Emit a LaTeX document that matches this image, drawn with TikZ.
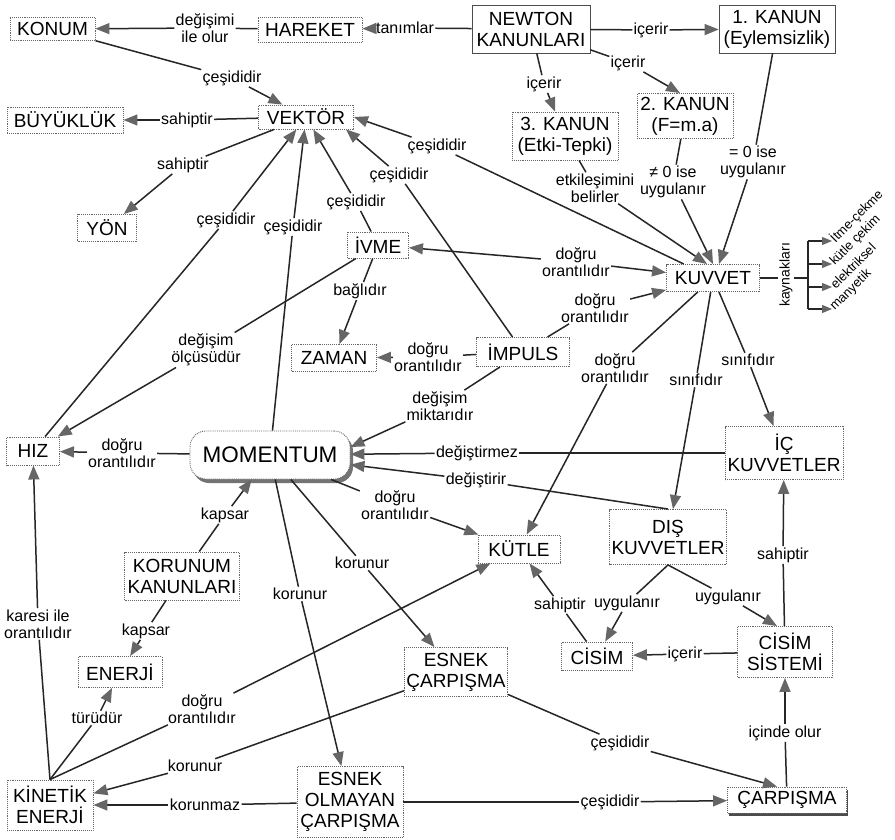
\documentclass[tikz,border=0pt]{standalone}
\usepackage{fontspec}
\setmainfont{Liberation Sans}
\usetikzlibrary{arrows.meta,shadows}

% one labelled link of the concept map: source -- phrase -> target
\newcommand\cmaplink[3]{\draw[link] (#1) -- (#2); \draw[arr] (#2) -- (#3);}

\begin{document}
\begin{tikzpicture}[x=1pt,y=-1pt,
  concept/.style={draw=black!60, densely dotted, line width=0.9pt, fill=white,
    inner sep=2pt, font=\fontsize{19}{21}\selectfont, align=center},
  firm/.style={concept, solid, draw=black!70, line width=0.7pt},
  lbl/.style={font=\fontsize{16}{17}\selectfont, align=center, inner sep=1.2pt},
  link/.style={draw=black!85, line width=1.5pt},
  arr/.style={link, -{Triangle[length=14pt,width=11pt,color=black!60]}},
  src/.style={font=\fontsize{13}{14}\selectfont, rotate=45, anchor=west, inner sep=0.5pt},
]
\fill[white] (0,0) rectangle (895,840);
\useasboundingbox (0,0) rectangle (895,840);

% ---------- concepts ----------
\node[firm, minimum width=118pt, minimum height=48pt] (newton) at (531,29) {NEWTON\\KANUNLARI};
\node[firm, minimum width=116pt, minimum height=48pt] (k1) at (777,29) {1. KANUN\\(Eylemsizlik)};
\node[concept, minimum width=96pt, minimum height=45pt] (k2) at (685,116) {2. KANUN\\(F=m.a)};
\node[concept, minimum width=106pt, minimum height=48pt] (k3) at (565,136) {3. KANUN\\(Etki-Tepki)};
\node[concept, minimum width=85pt, minimum height=23pt] (konum) at (52.5,29) {KONUM};
\node[concept, minimum width=104pt, minimum height=25pt] (hareket) at (310,29.5) {HAREKET};
\node[concept, minimum width=95pt, minimum height=24pt] (vektor) at (306,117) {VEKTÖR};
\node[concept, minimum width=116pt, minimum height=26pt] (buyukluk) at (65,120) {BÜYÜKLÜK};
\node[concept, minimum width=59pt, minimum height=27pt] (yon) at (107,228) {YÖN};
\node[concept, minimum width=61pt, minimum height=26pt] (ivme) at (378,245) {İVME};
\node[concept, minimum width=93pt, minimum height=27pt] (kuvvet) at (713,278) {KUVVET};
\node[concept, minimum width=85pt, minimum height=27pt] (zaman) at (334,358) {ZAMAN};
\node[concept, minimum width=93pt, minimum height=29pt] (impuls) at (523,352) {İMPULS};
\node[concept, minimum width=53pt, minimum height=28pt] (hiz) at (33,451) {HIZ};
\node[concept, rounded corners=16pt, minimum width=160pt, minimum height=48pt,
  font=\fontsize{22.5}{24}\selectfont,
  drop shadow={shadow xshift=3pt, shadow yshift=-4pt, fill=black!55, opacity=1}]
  (mom) at (270,455) {MOMENTUM};
\node[concept, minimum width=118pt, minimum height=53pt] (ic) at (784,453) {İÇ\\KUVVETLER};
\node[concept, minimum width=82pt, minimum height=28pt] (kutle) at (519,549) {KÜTLE};
\node[concept, minimum width=117pt, minimum height=55pt] (dis) at (668,537) {DIŞ\\KUVVETLER};
\node[concept, minimum width=115pt, minimum height=48pt] (korunum) at (182,576) {KORUNUM\\KANUNLARI};
\node[concept, minimum width=84pt, minimum height=31pt] (enerji) at (120,672) {ENERJİ};
\node[concept, minimum width=103pt, minimum height=49pt] (esnek) at (456,672) {ESNEK\\ÇARPIŞMA};
\node[concept, minimum width=71pt, minimum height=28pt] (cisim) at (597,656) {CİSİM};
\node[concept, minimum width=95pt, minimum height=51pt] (sistem) at (785,652) {CİSİM\\SİSTEMİ};
\node[concept, minimum width=86pt, minimum height=50pt] (kinetik) at (50,805) {KİNETİK\\ENERJİ};
\node[concept, minimum width=106pt, minimum height=71pt] (olmayan) at (350,802) {ESNEK\\OLMAYAN\\ÇARPIŞMA};
\node[concept, minimum width=119pt, minimum height=26pt,
  drop shadow={shadow xshift=1pt, shadow yshift=-3pt, fill=black!70, opacity=1}]
  (carpisma) at (787,800) {ÇARPIŞMA};

% ---------- linking phrases ----------
\node[lbl] (l1) at (205,28) {değişimi\\ile olur};
\node[lbl] (l2) at (405,28) {tanımlar};
\node[lbl] (l3) at (651,30) {içerir};
\node[lbl] (l4) at (628,63) {içerir};
\node[lbl] (l5) at (544,84) {içerir};
\node[lbl] (l6) at (232,78) {çeşididir};
\node[lbl] (l7) at (187,120) {sahiptir};
\node[lbl] (l8) at (183,165) {sahiptir};
\node[lbl] (l9) at (226,220) {çeşididir};
\node[lbl] (l10) at (293,227) {çeşididir};
\node[lbl] (l11) at (356,202) {çeşididir};
\node[lbl] (l12) at (399,175) {çeşididir};
\node[lbl] (l13) at (437,146) {çeşididir};
\node[lbl] (l14) at (595,188) {etkileşimini\\belirler};
\node[lbl] (l15) at (673,182) {≠ 0 ise\\uygulanır};
\node[lbl] (l16) at (753,162) {= 0 ise\\uygulanır};
\node[lbl] (l17) at (576,262) {doğru\\orantılıdır};
\node[lbl] (l18) at (595,308) {doğru\\orantılıdır};
\node[lbl] (l19) at (428,357) {doğru\\orantılıdır};
\node[lbl] (l20) at (360,291) {bağlıdır};
\node[lbl] (l21) at (206,350) {değişim\\ölçüsüdür};
\node[lbl] (l22) at (122,453) {doğru\\orantılıdır};
\node[lbl] (l23) at (440,406) {değişim\\miktarıdır};
\node[lbl] (l24) at (477,453) {değiştirmez};
\node[lbl] (l25) at (476,480) {değiştirir};
\node[lbl] (l26) at (395,505) {doğru\\orantılıdır};
\node[lbl] (l27) at (615,368) {doğru\\orantılıdır};
\node[lbl] (l28) at (696,380) {sınıfıdır};
\node[lbl] (l29) at (748,360) {sınıfıdır};
\node[lbl] (l30) at (225,515) {kapsar};
\node[lbl] (l31) at (146,631) {kapsar};
\node[lbl] (l32) at (362,563) {korunur};
\node[lbl] (l33) at (300,594) {korunur};
\node[lbl] (l34) at (97,718) {türüdür};
\node[lbl] (l35) at (38,624) {karesi ile\\orantılıdır};
\node[lbl] (l36) at (202,709) {doğru\\orantılıdır};
\node[lbl] (l37) at (195,766) {korunur};
\node[lbl] (l38) at (205,805) {korunmaz};
\node[lbl] (l39) at (610,802) {çeşididir};
\node[lbl] (l40) at (620,743) {çeşididir};
\node[lbl] (l41) at (785,733) {içinde olur};
\node[lbl] (l42) at (685,654) {içerir};
\node[lbl] (l43) at (783,555) {sahiptir};
\node[lbl] (l44) at (627,603) {uygulanır};
\node[lbl] (l45) at (728,597) {uygulanır};
\node[lbl] (l46) at (560,605) {sahiptir};

% ---------- links ----------
\cmaplink{hareket}{l1}{konum}
\cmaplink{newton}{l2}{hareket}
\cmaplink{newton}{l3}{k1}
\cmaplink{newton}{l4}{[xshift=-5pt]k2.north}
\cmaplink{newton}{l5}{k3}
\cmaplink{konum}{l6}{vektor}
\cmaplink{vektor}{l7}{buyukluk}
\cmaplink{vektor}{l8}{yon}
\cmaplink{hiz}{l9}{vektor}
\cmaplink{mom}{l10}{vektor}
\cmaplink{ivme}{l11}{vektor}
\cmaplink{impuls}{l12}{[xshift=-8pt]vektor.south east}
\cmaplink{kuvvet}{l13}{vektor.east}
\cmaplink{k3}{l14}{[xshift=-6pt]kuvvet.north}
\cmaplink{k2}{l15}{kuvvet.north}
\cmaplink{k1}{l16}{[xshift=6pt]kuvvet.north}
\draw[arr] (l17) -- (ivme);
\draw[arr] (l17) -- (kuvvet);
\cmaplink{impuls}{l18}{kuvvet}
\cmaplink{impuls}{l19}{zaman}
\cmaplink{ivme}{l20}{zaman}
\cmaplink{ivme}{l21}{hiz}
\cmaplink{mom}{l22}{hiz}
\cmaplink{impuls}{l23}{[yshift=8pt]mom.east}
\cmaplink{ic}{l24}{mom}
\cmaplink{dis.north}{l25}{mom}
\cmaplink{mom}{l26}{kutle}
\cmaplink{kuvvet}{l27}{kutle}
\cmaplink{kuvvet}{l28}{dis}
\cmaplink{kuvvet}{l29}{ic}
\cmaplink{korunum}{l30}{mom}
\cmaplink{korunum}{l31}{enerji}
\cmaplink{mom}{l32}{esnek}
\cmaplink{mom}{l33}{olmayan}
\cmaplink{kinetik.north}{l34}{enerji}
\cmaplink{kinetik.north}{l35}{hiz}
\cmaplink{kinetik.north}{l36}{kutle}
\cmaplink{esnek}{l37}{kinetik}
\cmaplink{olmayan}{l38}{kinetik}
\cmaplink{olmayan}{l39}{carpisma}
\cmaplink{esnek}{l40}{[xshift=-10pt]carpisma.north}
\cmaplink{carpisma}{l41}{sistem}
\cmaplink{sistem}{l42}{cisim}
\cmaplink{sistem}{l43}{ic}
\cmaplink{dis.south}{l44}{cisim}
\cmaplink{dis.south}{l45}{[xshift=-8pt]sistem.north}
\cmaplink{cisim}{l46}{kutle}

% ---------- sources of force ----------
% the rotated label's north side faces left, its south side faces right
\node[lbl, rotate=90, font=\fontsize{14}{15}\selectfont] (kay) at (786,275) {kaynakları};
\coordinate (bmid) at (808,278);
\coordinate (b1) at (808,241);
\coordinate (b2) at (808,264);
\coordinate (b3) at (808,287);
\coordinate (b4) at (808,309);
\draw[link] (kuvvet.east) -- (kuvvet.east -| kay.north);
\draw[link] (kay.south |- bmid) -- (bmid);
\draw[link] (b1) -- (b4);
\node[src] (s1) at (832,241) {İtme-çekme};
\node[src] (s2) at (832,264) {kütle çekim};
\node[src] (s3) at (832,287) {elektriksel};
\node[src] (s4) at (832,309) {manyetik};
\foreach \i in {1,...,4}
  \draw[link, line width=1.1pt, -{Triangle[length=10pt,width=8pt,color=black!60]}] (b\i) -- (s\i.west);
\end{tikzpicture}
\end{document}
